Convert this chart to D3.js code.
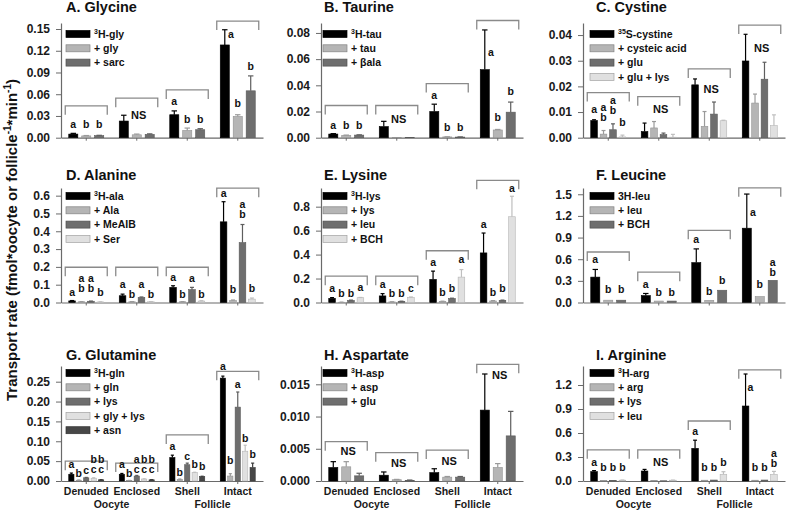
<!DOCTYPE html>
<html><head><meta charset="utf-8">
<script src="https://cdn.jsdelivr.net/npm/d3@7"></script>
<style>
body{margin:0;background:#fff;}
svg{font-family:"Liberation Sans",Arial,sans-serif;font-weight:bold;}
</style></head><body>
<svg id="c" width="788" height="512"></svg>
<script>
// ---------- shared categories ----------
const groups = ["Denuded","Enclosed","Shell","Intact"];
const groupCaptions = ["Oocyte","Follicle"];

// ---------- A. Glycine ----------
const glyNames = ["H-gly","+ gly","+ sarc"];
const glySup = ["3","",""];
const glyMean = [[0.005,0.023,0.0317,0.128],[0.0025,0.004,0.010,0.0293],[0.0028,0.0045,0.011,0.0647]];
const glySem  = [[0.001,0.008,0.0053,0.021],[0.0005,0.001,0.0033,0.0024],[0.0005,0.0008,0.0014,0.0206]];
const glyTicks = [0,0.03,0.06,0.09,0.12,0.15];
const glyBrackets = [0.044,0.0546,0.066,0.161];
const glyLetters = [["a","b","b"],"NS",["a","b","b"],["a","b","b"]];
const glyLevels = [[0.014,0.014,0.014],0.026,[0.0454,0.0206,0.0206],[0.1376,0.0427,0.0936]];

// ---------- B. Taurine ----------
const tauNames = ["H-tau","+ tau","+ \u03b2ala"];
const tauSup = ["3","",""];
const tauMean = [[0.0028,0.0085,0.020,0.052],[0.0018,0.0003,0.0006,0.0059],[0.002,0.0003,0.0005,0.0195]];
const tauSem  = [[0.0003,0.004,0.0056,0.0303],[0.0002,0,0.0001,0.0004],[0.0002,0,0.0001,0.0077]];
const tauTicks = [0,0.02,0.04,0.06,0.08];
const tauBrackets = [0.0246,0.0246,0.0413,0.0895];
const tauLetters = [["a","b","b"],"NS",["a","b","b"],["a","b","b"]];
const tauLevels = [[0.0069,0.0069,0.0069],0.0115,[0.0292,0.0054,0.0054],[0.0625,0.0125,0.0325]];

// ---------- C. Cystine ----------
const cysNames = ["S-cystine","+ cysteic acid","+ glu","+ glu + lys"];
const cysSup = ["35","","",""];
const cysMean = [[0.0067,0.0024,0.0206,0.0299],[0.0014,0.0038,0.0044,0.0135],[0.0031,0.0012,0.0092,0.0228],[0.0003,0.0002,0.0066,0.0047]];
const cysSem  = [[0.0003,0.0033,0.0023,0.0104],[0.0014,0.0025,0.0058,0.0035],[0.0023,0.0006,0.0047,0.0066],[0.0007,0.0011,0.0002,0.0042]];
const cysTicks = [0,0.01,0.02,0.03,0.04];
const cysBrackets = [0.0176,0.016,0.0268,0.0439];
const cysLetters = [["a","ab","ab","b"],"NS","NS","NS"];
const cysLevels = [[0.0097,0.0065,0.0093,0.0044],0.0097,0.0174,0.0335];

// ---------- D. Alanine ----------
const alaNames = ["H-ala","+ Ala","+ MeAIB","+ Ser"];
const alaSup = ["3","","",""];
const alaMean = [[0.009,0.038,0.085,0.453],[0.004,0.004,0.004,0.011],[0.007,0.028,0.072,0.336],[0.003,0.004,0.008,0.019]];
const alaSem  = [[0.002,0.009,0.009,0.113],[0.001,0.001,0.001,0.003],[0.001,0.003,0.013,0.102],[0.001,0.001,0.002,0.006]];
const alaTicks = [0,0.1,0.2,0.3,0.4,0.5,0.6];
const alaBrackets = [0.198,0.198,0.198,0.642];
const alaLetters = [["a","ab","ab","b"],["a","b","a","b"],["a","b","a","b"],["a","b","ab","b"]];
const alaLevels = [[0.038,0.057,0.057,0.038],[0.081,0.028,0.081,0.028],[0.119,0.028,0.113,0.028],[0.591,0.053,0.472,0.057]];

// ---------- E. Lysine ----------
const lysNames = ["H-lys","+ lys","+ leu","+ BCH"];
const lysSup = ["3","","",""];
const lysMean = [[0.035,0.055,0.193,0.414],[0.002,0.005,0.010,0.013],[0.017,0.010,0.033,0.018],[0.040,0.042,0.212,0.716]];
const lysSem  = [[0.006,0.019,0.069,0.166],[0.001,0.001,0.001,0.003],[0.003,0.001,0.003,0.002],[0.002,0.004,0.063,0.171]];
const lysTicks = [0,0.2,0.4,0.6,0.8];
const lysBrackets = [0.22,0.22,0.432,1.02];
const lysLetters = [["a","b","b","a"],["a","b","b","c"],["a","b","b","a"],["a","b","b","a"]];
const lysLevels = [[0.085,0.05,0.05,0.096],[0.124,0.05,0.05,0.085],[0.306,0.058,0.091,0.331],[0.623,0.058,0.091,0.923]];

// ---------- F. Leucine ----------
const leuNames = ["3H-leu","+ leu","+ BCH"];
const leuSup = ["","",""];
const leuMean = [[0.352,0.096,0.553,1.03],[0.032,0.02,0.03,0.082],[0.032,0.02,0.17,0.307]];
const leuSem  = [[0.106,0.029,0.19,0.473],[0,0,0,0],[0,0,0,0]];
const leuTicks = [0,0.3,0.6,0.9,1.2,1.5];
const leuBrackets = [0.70,0.42,1.0,1.59];
const leuLetters = [["a","b","b"],["a","b","b"],["a","b","b"],["a","b","ab"]];
const leuLevels = [[0.55,0.13,0.13],[0.206,0.096,0.096],[0.83,0.105,0.256],[1.205,0.206,0.371]];

// ---------- G. Glutamine ----------
const glnNames = ["H-gln","+ gln","+ lys","+ gly + lys","+ asn"];
const glnSup = ["3","","","",""];
const glnMean = [[0.017,0.017,0.059,0.259],[0.002,0.001,0.004,0.0125],[0.008,0.0125,0.041,0.186],[0.007,0.005,0.021,0.075],[0.003,0.003,0.011,0.034]];
const glnSem  = [[0.003,0.002,0.006,0.005],[0.0005,0.0005,0.001,0.006],[0.001,0.0015,0.004,0.038],[0.001,0.0005,0.001,0.015],[0.0005,0.0005,0.001,0.011]];
const glnTicks = [0,0.05,0.10,0.15,0.20,0.25];
const glnBrackets = [0.05,0.045,0.116,0.276];
const glnLetters = [["a","b","c","bc","bc"],["a","b","ac","bc","bc"],["a","b","c","b","b"],["a","b","a","b","b"]];
const glnLevels = [[0.032,0.01,0.017,0.019,0.019],[0.032,0.01,0.019,0.019,0.019],[0.077,0.0125,0.053,0.0335,0.027],[0.279,0.042,0.235,0.098,0.057]];

// ---------- H. Aspartate ----------
const aspNames = ["H-asp","+ asp","+ glu"];
const aspSup = ["3","",""];
const aspMean = [[0.0021,0.0009,0.0013,0.011],[0.0022,0.0002,0.0006,0.0021],[0.0008,0.0001,0.0006,0.007]];
const aspSem  = [[0.0009,0.0005,0.0006,0.0056],[0.0008,0.00005,0.0001,0.0006],[0.0004,0.00005,0.0001,0.0038]];
const aspTicks = [0,0.005,0.010,0.015];
const aspBrackets = [0.0061,0.0044,0.0048,0.0181];
const aspLetters = ["NS","NS","NS","NS"];
const aspLevels = [0.004,0.0021,0.0025,0.0158];

// ---------- I. Arginine ----------
const argNames = ["H-arg","+ arg","+ lys","+ leu"];
const argSup = ["3","","",""];
const argMean = [[0.117,0.125,0.408,0.9375],[0.005,0.005,0.01,0.01],[0.005,0.003,0.012,0.012],[0.01,0.01,0.084,0.083]];
const argSem  = [[0.013,0.02,0.102,0.40],[0,0,0,0],[0,0,0,0],[0.002,0.001,0.032,0.037]];
const argTicks = [0,0.3,0.6,0.9,1.2];
const argBrackets = [0.39,0.39,0.75,1.39];
const argLetters = [["a","b","b","b"],"NS",["a","b","b","b"],["a","b","b","ab"]];
const argLevels = [[0.19,0.12,0.12,0.12],0.19,[0.575,0.12,0.12,0.184],[1.13,0.12,0.12,0.18]];

// ---------- panel table (built from the arrays above) ----------
const panels = [
 {title:"A. Glycine",  names:glyNames,sup:glySup,mean:glyMean,sem:glySem,ticks:glyTicks,fmt:".2f",ymax:0.1583,br:glyBrackets,let:glyLetters,lv:glyLevels,shades:["k","l","d"]},
 {title:"B. Taurine",  names:tauNames,sup:tauSup,mean:tauMean,sem:tauSem,ticks:tauTicks,fmt:".2f",ymax:0.0876,br:tauBrackets,let:tauLetters,lv:tauLevels,shades:["k","l","d"]},
 {title:"C. Cystine",  names:cysNames,sup:cysSup,mean:cysMean,sem:cysSem,ticks:cysTicks,fmt:".2f",ymax:0.0447,br:cysBrackets,let:cysLetters,lv:cysLevels,shades:["k","l","d","p"]},
 {title:"D. Alanine",  names:alaNames,sup:alaSup,mean:alaMean,sem:alaSem,ticks:alaTicks,fmt:".1f",ymax:0.643,br:alaBrackets,let:alaLetters,lv:alaLevels,shades:["k","l","d","p"]},
 {title:"E. Lysine",   names:lysNames,sup:lysSup,mean:lysMean,sem:lysSem,ticks:lysTicks,fmt:".1f",ymax:0.956,br:lysBrackets,let:lysLetters,lv:lysLevels,shades:["k","l","d","p"]},
 {title:"F. Leucine",  names:leuNames,sup:leuSup,mean:leuMean,sem:leuSem,ticks:leuTicks,fmt:".1f",ymax:1.587,br:leuBrackets,let:leuLetters,lv:leuLevels,shades:["k","l","d"]},
 {title:"G. Glutamine",names:glnNames,sup:glnSup,mean:glnMean,sem:glnSem,ticks:glnTicks,fmt:".2f",ymax:0.2895,br:glnBrackets,let:glnLetters,lv:glnLevels,shades:["k","l","d","p","x"]},
 {title:"H. Aspartate",names:aspNames,sup:aspSup,mean:aspMean,sem:aspSem,ticks:aspTicks,fmt:".3f",ymax:0.01784,br:aspBrackets,let:aspLetters,lv:aspLevels,shades:["k","l","d"]},
 {title:"I. Arginine", names:argNames,sup:argSup,mean:argMean,sem:argSem,ticks:argTicks,fmt:".1f",ymax:1.4375,br:argBrackets,let:argLetters,lv:argLevels,shades:["k","l","d","p"]}
];

// ---------- styles / layout ----------
const shade = {k:"#000000", l:"#b5b5b5", d:"#6e6e6e", p:"#e0e0e0", x:"#474747"};
const colX=[61,321,583], rowTop=[23,188,366], rowBot=[137.7,302.5,481], W=202;
const titleDx=[5,3,13], titleY=[12,180,360], legDx=[5,2,7], legDy=[11,8,7];
const axisColor="#6a6a6a", bracketColor="#8a8a8a";

const svg = d3.select("#c");

panels.forEach((p,k)=>{
  const col=k%3, row=Math.floor(k/3), L=colX[col], top=rowTop[row], bot=rowBot[row];
  const g = svg.append("g").attr("transform",`translate(${L},0)`);
  const x = d3.scaleBand().domain(groups).range([0,W]);
  const y = d3.scaleLinear().domain([0,p.ymax]).range([bot,top]);
  const n = p.names.length;
  const xi = d3.scaleBand().domain(d3.range(n)).range([-17.5,17.5]).paddingInner(0.3);
  const bw = xi.bandwidth();
  const cx = gname => x(gname)+x.bandwidth()/2;
  const fillOf = i => shade[p.shades[i]];

  // y axis
  const ya = g.append("g")
    .call(d3.axisLeft(y).tickValues(p.ticks).tickFormat(d3.format(p.fmt)).tickSize(5).tickPadding(6).tickSizeOuter(0))
    .attr("font-family",null).attr("font-size",12).attr("font-weight","bold");
  ya.select(".domain").attr("stroke",axisColor).attr("stroke-width",1.2);
  ya.selectAll(".tick line").attr("stroke",axisColor);
  ya.selectAll(".tick text").attr("fill","#1a1a1a");

  // x axis
  const xa = g.append("g").attr("transform",`translate(0,${bot})`)
    .call(d3.axisBottom(x).tickSize(3).tickPadding(3.5).tickSizeOuter(0).tickFormat(row===2 ? d=>d : ()=>""))
    .attr("font-family",null).attr("font-size",10.5).attr("font-weight","bold");
  xa.select(".domain").attr("stroke",axisColor).attr("stroke-width",1.2);
  xa.selectAll(".tick line").attr("stroke",axisColor);
  xa.selectAll(".tick text").attr("fill","#1a1a1a");
  if(row===2){
    [[0,1],[2,3]].forEach((pr,j)=>{
      g.append("text").attr("x",(cx(groups[pr[0]])+cx(groups[pr[1]]))/2).attr("y",508)
        .attr("text-anchor","middle").attr("font-size",10.5).attr("fill","#1a1a1a").text(groupCaptions[j]);
    });
  }

  // bars + error bars
  groups.forEach((gn,gi)=>{
    for(let si=0; si<n; si++){
      const m=p.mean[si][gi], s=p.sem[si][gi], fc=fillOf(si);
      const bx=cx(gn)+xi(si);
      g.append("rect").attr("x",bx).attr("y",y(m)).attr("width",bw).attr("height",Math.max(0,bot-y(m)))
        .attr("fill",fc).attr("stroke",d3.color(fc).darker(0.6)).attr("stroke-width",0.6);
      if(s>0){
        const ec = si===0 ? "#000" : d3.color(fc).darker(0.45);
        const mx=bx+bw/2;
        g.append("line").attr("x1",mx).attr("x2",mx).attr("y1",y(m)).attr("y2",y(m+s)).attr("stroke",ec).attr("stroke-width",1.2);
        g.append("line").attr("x1",mx-bw*0.3).attr("x2",mx+bw*0.3).attr("y1",y(m+s)).attr("y2",y(m+s)).attr("stroke",ec).attr("stroke-width",1.2);
      }
    }
    // bracket
    const by=y(p.br[gi]), c=cx(gn);
    g.append("path").attr("d",`M${c-21},${by+9}V${by}H${c+21}V${by+9}`)
      .attr("fill","none").attr("stroke",bracketColor).attr("stroke-width",1.3);
    // letters
    const lt=p.let[gi], lv=p.lv[gi];
    if(typeof lt==="string"){
      g.append("text").attr("x",c+2).attr("y",y(lv)).attr("text-anchor","middle").attr("font-size",11).attr("fill","#111").text(lt);
    } else {
      lt.forEach((t,si)=>{
        if(!t) return;
        const top = p.mean[si][gi]+p.sem[si][gi];
        let lx = cx(gn)+xi(si)+bw/2;
        if(lv[si] < top) lx += bw/2+1.5;
        const chars=t.split("");
        chars.forEach((ch,ci)=>{
          g.append("text").attr("x",lx).attr("y",y(lv[si])-(chars.length-1-ci)*10)
            .attr("text-anchor","middle").attr("font-size",10.5).attr("fill","#111").text(ch);
        });
      });
    }
  });

  // legend
  p.names.forEach((nm,i)=>{
    const ly = top+legDy[row]+i*14.3, lx=legDx[col], fc=fillOf(i);
    g.append("rect").attr("x",lx).attr("y",ly-3.5).attr("width",24).attr("height",7)
      .attr("fill",fc).attr("stroke",d3.color(fc).darker(0.9)).attr("stroke-width",0.7);
    const t=g.append("text").attr("x",lx+28).attr("y",ly+3.8).attr("font-size",10.5).attr("fill","#111");
    if(p.sup[i]){
      t.append("tspan").attr("font-size",7).attr("dy",-4).text(p.sup[i]);
      t.append("tspan").attr("dy",4).text(nm);
    } else t.text(nm);
  });

  // title
  g.append("text").attr("x",titleDx[col]).attr("y",titleY[row]).attr("font-size",14.5).attr("fill","#111").text(p.title);
});

// y-axis label
const yl = svg.append("text").attr("transform","translate(17,240) rotate(-90)")
  .attr("text-anchor","middle").attr("font-size",15).attr("fill","#111");
yl.append("tspan").text("Transport rate (fmol*oocyte or follicle");
yl.append("tspan").attr("font-size",10).attr("dy",-6).text("-1");
yl.append("tspan").attr("dy",6).text("*min");
yl.append("tspan").attr("font-size",10).attr("dy",-6).text("-1");
yl.append("tspan").attr("dy",6).text(")");
</script>
</body></html>
